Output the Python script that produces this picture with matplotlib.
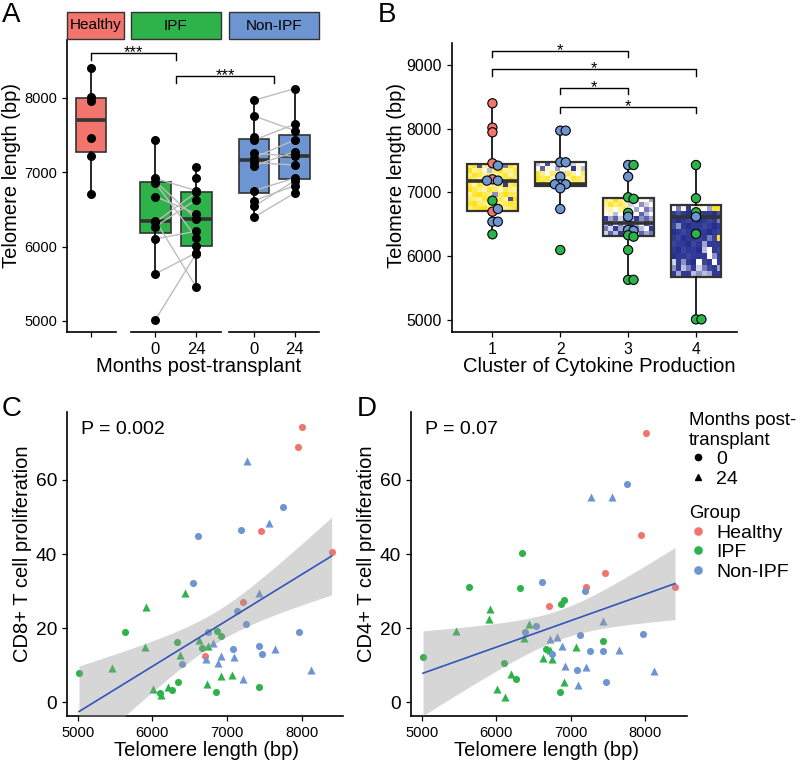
import numpy as np
import matplotlib
matplotlib.use("Agg")
import matplotlib.pyplot as plt
from matplotlib import cbook
from matplotlib.colors import LinearSegmentedColormap
from matplotlib.lines import Line2D
from matplotlib.patches import Rectangle

plt.rcParams['font.family'] = ['Liberation Sans', 'DejaVu Sans']

# ---------------- data ----------------
groups = ['Healthy', 'IPF', 'Non-IPF']
group_colors = {'Healthy': '#F2756D', 'IPF': '#2DB34A', 'Non-IPF': '#6D95D2'}

healthy_tel = [6710, 7210, 7460, 7950, 8010, 8400]
healthy_cd8 = [12.4, 27.1, 46.1, 68.9, 74.2, 40.6]
healthy_cd4 = [26.1, 31.0, 35.0, 45.1, 72.7, 31.0]

ipf0_tel = [5018, 5634, 6103, 6268, 6326, 6348, 6670, 6853, 6871, 6915, 7433]
ipf0_cd8 = [7.9, 18.9, 2.6, 3.3, 16.2, 5.5, 14.7, 2.7, 19.1, 17.9, 4.2]
ipf0_cd4 = [12.3, 31.0, 10.5, 6.2, 30.8, 40.2, 14.3, 2.7, 26.4, 27.6, 16.5]

ipf24_tel = [5455, 5906, 5915, 6013, 6121, 6205, 6375, 6442, 6629, 6728, 6750, 6915, 7071]
ipf24_cd8 = [9.3, 14.8, 25.8, 3.5, 1.9, 4.2, 12.7, 29.4, 16.7, 4.9, 15.3, 7.1, 7.4]
ipf24_cd4 = [19.2, 22.4, 25.1, 3.5, 1.3, 7.5, 17.4, 21.0, 12.0, 14.2, 11.6, 5.4, 15.0]

non0_tel = [6393, 6540, 6616, 6750, 7085, 7129, 7192, 7254, 7429, 7473, 7754, 7964]
non0_cd8 = [10.4, 32.2, 44.9, 18.9, 14.3, 24.6, 46.6, 21.0, 15.3, 12.9, 52.6, 19.0]
non0_cd4 = [18.9, 20.7, 32.4, 13.0, 8.6, 18.1, 29.9, 13.8, 13.8, 5.5, 59.0, 18.4]

non24_tel = [6719, 6817, 6884, 6920, 7094, 7210, 7272, 7433, 7558, 7643, 8121]
non24_cd8 = [11.6, 15.9, 10.7, 12.5, 12.1, 6.2, 65.1, 29.4, 48.3, 14.5, 8.7]
non24_cd4 = [17.1, 17.6, 15.3, 9.9, 4.7, 9.4, 55.5, 21.8, 55.5, 14.1, 8.5]

# same subject at 0 and 24 months (index in month-0 list, index in month-24 list)
ipf_pairs = [(0, 1), (1, 2), (2, 5), (3, 8), (4, 9), (5, 0), (6, 7), (7, 4), (8, 6), (9, 10)]
non_pairs = [(0, 0), (1, 2), (2, 1), (3, 3), (4, 6), (5, 4), (6, 7), (7, 5), (8, 9), (10, 8), (11, 10)]

# panel B: telomere length by cytokine cluster
clusters = ['1', '2', '3', '4']
cl1_tel = [8399, 8017, 7944, 7458, 7421, 7207, 7186, 7186, 6872, 6699, 6741, 6542, 6542, 6344]
cl1_grp = ['Healthy', 'Healthy', 'Healthy', 'Healthy', 'Non-IPF', 'Healthy', 'Non-IPF',
           'Non-IPF', 'IPF', 'Healthy', 'Non-IPF', 'Non-IPF', 'Non-IPF', 'IPF']
cl2_tel = [7970, 7970, 7474, 7474, 7248, 7129, 7129, 7129, 7066, 6741, 6098]
cl2_grp = ['Non-IPF'] * 10 + ['IPF']
cl3_tel = [7431, 7431, 7248, 6925, 6900, 6680, 6620, 6412, 6400, 6330, 6307, 6098, 5630, 5630]
cl3_grp = ['Non-IPF', 'IPF', 'Non-IPF', 'IPF', 'IPF', 'IPF', 'Non-IPF', 'Non-IPF',
           'Non-IPF', 'IPF', 'IPF', 'IPF', 'IPF', 'IPF']
cl4_tel = [7431, 6910, 6690, 6620, 6350, 5010, 5010]
cl4_grp = ['IPF', 'IPF', 'IPF', 'Non-IPF', 'IPF', 'IPF', 'IPF']

# cytokine heatmaps shown inside the cluster boxes (-1 low .. 1 high)
heat1 = [[0.6, 0.8, -0.8, 0.5, 0.3, 0.7, 0.6, -0.6, 0.8, 0.5],
         [0.9, 0.4, 0.6, 0.2, -0.3, 0.6, 0.9, 0.4, 0.5, 0.7],
         [0.5, 0.9, 0.7, 0.4, 0.6, 0.3, 0.5, 0.8, 0.3, 0.6],
         [0.8, 0.6, 0.3, 0.9, 0.5, 0.7, 0.4, 0.6, 0.9, 0.5],
         [0.7, 0.3, 0.8, 0.6, 0.2, 0.5, 0.8, -0.9, 0.6, 0.8],
         [0.9, 0.7, 0.5, 0.3, 0.8, 0.6, 0.2, 0.7, 0.5, 0.4],
         [0.4, 0.8, 0.9, 0.7, 0.5, -0.5, 0.6, 0.9, 0.7, 0.6],
         [0.6, 0.5, 0.4, 0.8, 0.9, 0.4, 0.7, 0.3, -0.8, 0.9],
         [0.8, 0.9, 0.6, 0.5, 0.3, 0.8, 0.5, 0.6, 0.8, 0.7],
         [0.5, 0.7, 0.8, 0.9, 0.6, 0.7, 0.9, 0.5, 0.6, 0.8]]
heat2 = [[-0.3, 0.2, -0.8, 0.1, 0.0, 0.3, -0.6, -0.2, 0.1, 0.0],
         [0.0, -0.7, 0.2, 0.0, -0.4, 0.1, 0.0, -0.9, 0.2, -0.3],
         [0.8, 0.5, 0.1, 0.6, 0.3, -0.2, 0.7, 0.4, 0.0, 0.6],
         [0.9, 0.6, 0.8, 0.2, 0.7, 0.5, 0.3, 0.8, 0.6, 0.4],
         [0.5, 0.9, 0.4, 0.7, 0.6, 0.8, 0.9, 0.5, 0.7, 0.3]]
heat3 = [[0.6, 0.3, 0.9, 0.5, 0.2, 0.0, -0.3, 0.1, 0.0, -0.4],
         [0.4, 0.8, 0.5, 0.7, 0.3, -0.2, 0.0, -0.5, -0.2, 0.1],
         [0.2, 0.3, 0.0, 0.4, 0.8, 0.0, -0.4, 0.0, -0.6, -0.3],
         [0.0, 0.2, -0.3, 0.1, -0.5, -0.2, 0.0, -0.7, -0.3, 0.0],
         [-0.9, -0.4, -0.7, -0.2, -0.8, -0.3, -0.9, -0.5, -0.7, -0.4],
         [-0.3, -0.8, 0.0, -0.6, -0.2, -0.9, -0.4, 0.0, -0.8, -0.5],
         [-0.6, -0.2, -0.9, -0.4, -0.7, 0.0, -0.6, -0.3, 0.0, -0.9],
         [-0.2, -0.7, -0.3, -0.9, -0.5, -0.8, -0.2, -0.7, -0.4, -0.6]]
heat4 = [[0.0, -0.6, 0.2, -0.9, 0.0, 0.3, 0.0, -0.4, 0.9, 0.8],
         [-0.9, -0.8, -0.9, -0.95, -0.9, -0.85, -0.9, -0.9, -0.95, -0.8],
         [-0.9, -0.95, -0.9, -0.85, -0.9, -0.95, -0.9, -0.85, -0.9, -0.6],
         [-0.85, -0.5, -0.9, -0.95, -0.9, -0.9, -0.85, -0.9, -0.95, -0.9],
         [-0.95, -0.9, -0.85, -0.9, -0.95, -0.9, -0.9, -0.95, -0.9, -0.85],
         [-0.9, -0.85, -0.95, -0.9, -0.9, -0.85, -0.9, -0.6, -0.85, 0.8],
         [-0.85, -0.9, -0.9, -0.95, -0.85, -0.9, -0.4, -0.9, -0.9, -0.9],
         [-0.9, -0.95, -0.85, -0.9, -0.9, -0.95, -0.3, 0.0, -0.9, -0.85],
         [-0.95, -0.9, -0.9, -0.85, -0.9, -0.9, -0.9, 0.0, -0.5, -0.9],
         [-0.2, -0.9, -0.5, -0.9, -0.95, 0.0, -0.85, -0.9, 0.0, -0.9],
         [-0.5, -0.9, -0.3, -0.6, -0.9, -0.2, -0.6, -0.85, -0.9, -0.4],
         [-0.9, -0.4, -0.9, -0.9, -0.3, -0.5, -0.3, -0.4, -0.9, -0.9]]

# significance brackets in B: (cluster from, cluster to, label)
b_brackets = [(1, 3, '*'), (1, 4, '*'), (2, 3, '*'), (2, 4, '*')]
p_values = ['P = 0.002', 'P = 0.07']

# ---------------- figure ----------------
W, H = 800, 763
fig = plt.figure(figsize=(W / 100, H / 100), dpi=100)
EDGE = '#333333'


def px_axes(x0, y0, x1, y1):
    return fig.add_axes([x0 / W, 1 - y1 / H, (x1 - x0) / W, (y1 - y0) / H])


def to_fig(ax, x, y):
    return fig.transFigure.inverted().transform(ax.transData.transform((x, y)))


def bracket(p0, p1, drop, label, fs=12):
    (xa, ya), (xb, yb) = p0, p1
    fig.add_artist(Line2D([xa, xa, xb, xb], [ya - drop, ya, ya, yb - drop],
                          transform=fig.transFigure, color='black', lw=1))
    fig.text((xa + xb) / 2, ya - 4 / H, label, ha='center', va='baseline', fontsize=fs)


def style_ticks(ax, size):
    ax.tick_params(length=3.5, width=0.9, color='black', labelsize=size, labelcolor='black')


# ---------- panel A ----------
facets = [('Healthy', [healthy_tel], [''], (67, 124), (0.415, 1.822)),
          ('IPF', [ipf0_tel, ipf24_tel], ['0', '24'], (131, 220.7), (0.4, 2.6)),
          ('Non-IPF', [non0_tel, non24_tel], ['0', '24'], (229.3, 319.3), (0.4, 2.6))]
axA = []
for name, sets, labels, (x0, x1), xl in facets:
    ax = px_axes(x0, 40, x1, 332)
    stats = [cbook.boxplot_stats(np.array(d), whis=1.5)[0] for d in sets]
    pos = np.arange(1, len(sets) + 1)
    ax.bxp(stats, positions=pos, widths=0.75, patch_artist=True, showcaps=False,
           showfliers=False, zorder=1,
           boxprops=dict(facecolor=group_colors[name], edgecolor=EDGE, lw=1.2),
           medianprops=dict(color=EDGE, lw=2.6),
           whiskerprops=dict(color='black', lw=1.2))
    if len(sets) == 2:
        pairs = ipf_pairs if name == 'IPF' else non_pairs
        for i, j in pairs:
            ax.plot([1, 2], [sets[0][i], sets[1][j]], color='#BDBDBD', lw=1, zorder=2)
    for p, d in zip(pos, sets):
        ax.scatter(np.full(len(d), p), d, s=42, color='black', zorder=3, clip_on=False, lw=0)
    ax.set_xlim(*xl)
    ax.set_ylim(4852, 8774)
    ax.set_xticks(pos)
    ax.set_xticklabels(labels)
    for s in ['top', 'right']:
        ax.spines[s].set_visible(False)
    ax.spines['bottom'].set_linewidth(1.2)
    ax.spines['left'].set_linewidth(1.2)
    style_ticks(ax, 12)
    if name == 'Healthy':
        ax.spines['bottom'].set_bounds(0.415, 1.617)
        ax.set_yticks([5000, 6000, 7000, 8000])
        ax.tick_params(axis='y', labelsize=10.5)
    else:
        ax.spines['left'].set_visible(False)
        ax.set_yticks([])
    ax.patch.set_alpha(0)
    fig.add_artist(Rectangle((x0 / W, 1 - 39 / H), (x1 - x0) / W, 27 / H,
                             transform=fig.transFigure, facecolor=group_colors[name],
                             edgecolor=EDGE, lw=1))
    fig.text((x0 + x1) / 2 / W, 1 - 25.5 / H, name, ha='center', va='center', fontsize=11)
    axA.append(ax)

bracket(to_fig(axA[0], 1, 8604), to_fig(axA[1], 1.5, 8604), 7.3 / H, '***')
bracket(to_fig(axA[1], 1.5, 8295), to_fig(axA[2], 1.5, 8295), 7 / H, '***')
fig.text(12 / W, 1 - 175 / H, 'Telomere length (bp)', rotation=90, ha='center', va='center', fontsize=14.5)
fig.text(198.5 / W, 1 - 366.7 / H, 'Months post-transplant', ha='center', va='center', fontsize=14.5)

# ---------- panel B ----------
axB = px_axes(451.7, 43.3, 736.7, 332.3)
cmap = LinearSegmentedColormap.from_list('cyto', ['#1B2589', '#FFFFFF', '#FFE000'])
b_sets = [(cl1_tel, cl1_grp, heat1), (cl2_tel, cl2_grp, heat2),
          (cl3_tel, cl3_grp, heat3), (cl4_tel, cl4_grp, heat4)]
for k, (tel, grp, heat) in enumerate(b_sets):
    p = k + 1
    st = cbook.boxplot_stats(np.array(tel), whis=1.5)[0]
    axB.imshow(np.array(heat), cmap=cmap, vmin=-1, vmax=1, aspect='auto', interpolation='nearest',
               extent=(p - 0.375, p + 0.375, st['q1'], st['q3']), zorder=1)
    axB.bxp([st], positions=[p], widths=0.75, patch_artist=True, showcaps=False,
            showfliers=False, zorder=2,
            boxprops=dict(facecolor='none', edgecolor=EDGE, lw=1.6),
            medianprops=dict(color=EDGE, lw=2.6),
            whiskerprops=dict(color='black', lw=1.2))
    offs = []
    for i, v in enumerate(tel):
        n_near = sum(1 for u in tel[:i] if abs(u - v) < 45)
        offs.append([0, 0.08, -0.08, 0.16, -0.16][min(n_near, 4)])
    axB.scatter(p + np.array(offs), tel, s=44, c=[group_colors[g] for g in grp],
                edgecolors='black', linewidths=0.8, zorder=4)
axB.set_xlim(0.4, 4.6)
axB.set_ylim(4807, 9340)
axB.set_xticks([1, 2, 3, 4])
axB.set_xticklabels(clusters)
axB.set_yticks([5000, 6000, 7000, 8000, 9000])
for s in ['top', 'right']:
    axB.spines[s].set_visible(False)
for s in ['bottom', 'left']:
    axB.spines[s].set_linewidth(1.2)
style_ticks(axB, 11.3)
b_levels = [9220, 8933, 8644, 8346]
for (c0, c1, lab), yb in zip(b_brackets, b_levels):
    bracket(to_fig(axB, c0, yb), to_fig(axB, c1, yb), 6.5 / H, lab)
fig.text(397 / W, 1 - 175 / H, 'Telomere length (bp)', rotation=90, ha='center', va='center', fontsize=14.5)
fig.text(598.8 / W, 1 - 366.7 / H, 'Cluster of Cytokine Production', ha='center', va='center', fontsize=14.5)

# ---------- panels C and D ----------
scatter_sets = [(healthy_tel, healthy_cd8, healthy_cd4, 'Healthy', 'o'),
                (ipf0_tel, ipf0_cd8, ipf0_cd4, 'IPF', 'o'),
                (ipf24_tel, ipf24_cd8, ipf24_cd4, 'IPF', '^'),
                (non0_tel, non0_cd8, non0_cd4, 'Non-IPF', 'o'),
                (non24_tel, non24_cd8, non24_cd4, 'Non-IPF', '^')]


def scatter_panel(ax, col, p_text, ylabel, ylab_x):
    xs_all, ys_all = [], []
    for st in scatter_sets:
        tel, yv, grp, mk = st[0], st[col], st[3], st[4]
        ax.scatter(tel, yv, s=26 if mk == 'o' else 34, marker=mk, color=group_colors[grp],
                   lw=0, zorder=2)
        xs_all += tel
        ys_all += yv
    x = np.array(xs_all, float)
    y = np.array(ys_all, float)
    n = len(x)
    xm = x.mean()
    sxx = ((x - xm) ** 2).sum()
    b = ((x - xm) * (y - y.mean())).sum() / sxx
    a = y.mean() - b * xm
    s = np.sqrt(((y - a - b * x) ** 2).sum() / (n - 2))
    xs = np.linspace(x.min(), x.max(), 100)
    fit = a + b * xs
    se = s * np.sqrt(1 / n + (xs - xm) ** 2 / sxx)
    ax.fill_between(xs, fit - 2.008 * se, fit + 2.008 * se, color='#999999', alpha=0.4, lw=0, zorder=3)
    ax.plot(xs, fit, color='#3056B8', lw=1.2, zorder=4)
    ax.set_xlim(4853, 8557)
    ax.set_ylim(-3.7, 78.4)
    ax.set_xticks([5000, 6000, 7000, 8000])
    ax.set_yticks([0, 20, 40, 60])
    for sp in ['top', 'right']:
        ax.spines[sp].set_visible(False)
    for sp in ['bottom', 'left']:
        ax.spines[sp].set_linewidth(1.2)
    style_ticks(ax, 10.6)
    ax.tick_params(axis='y', labelsize=13.8)
    ax.text(0.05, 0.94, p_text, transform=ax.transAxes, fontsize=14, ha='left', va='center')
    fig.text(ylab_x / W, 1 - 554 / H, ylabel, rotation=90, ha='center', va='center', fontsize=14.5)


axC = px_axes(66.7, 411.7, 343.3, 716)
scatter_panel(axC, 1, p_values[0], 'CD8+ T cell proliferation', 23)
fig.text(206.5 / W, 1 - 750 / H, 'Telomere length (bp)', ha='center', va='center', fontsize=14.5)

axD = px_axes(410.7, 411.7, 686.7, 716)
scatter_panel(axD, 2, p_values[1], 'CD4+ T cell proliferation', 366)
fig.text(546.7 / W, 1 - 750 / H, 'Telomere length (bp)', ha='center', va='center', fontsize=14.5)

# legends
month_handles = [Line2D([], [], ls='none', marker='o', color='black', markersize=4.5),
                 Line2D([], [], ls='none', marker='^', color='black', markersize=5)]
leg1 = fig.legend(month_handles, ['0', '24'], title='Months post-\ntransplant', loc='upper left',
                  bbox_to_anchor=(689 / W, 1 - 412 / H), frameon=False, fontsize=14,
                  title_fontsize=13.4, alignment='left', handlelength=0.9, handletextpad=0.5,
                  labelspacing=0.1, borderpad=0, borderaxespad=0)
leg1.get_title().set_multialignment('left')
group_handles = [Line2D([], [], ls='none', marker='o', color=group_colors[g], markersize=5.2)
                 for g in groups]
fig.legend(group_handles, groups, title='Group', loc='upper left',
           bbox_to_anchor=(689 / W, 1 - 505 / H), frameon=False, fontsize=14,
           title_fontsize=13.4, alignment='left', handlelength=0.9, handletextpad=0.5,
           labelspacing=0.1, borderpad=0, borderaxespad=0)

# panel letters
for letter, (lx, ly) in zip('ABCD', [(2, 2), (378, 2), (2, 396), (357, 396)]):
    fig.text(lx / W, 1 - ly / H, letter, ha='left', va='top', fontsize=20)

fig.savefig('out.png', dpi=100)
